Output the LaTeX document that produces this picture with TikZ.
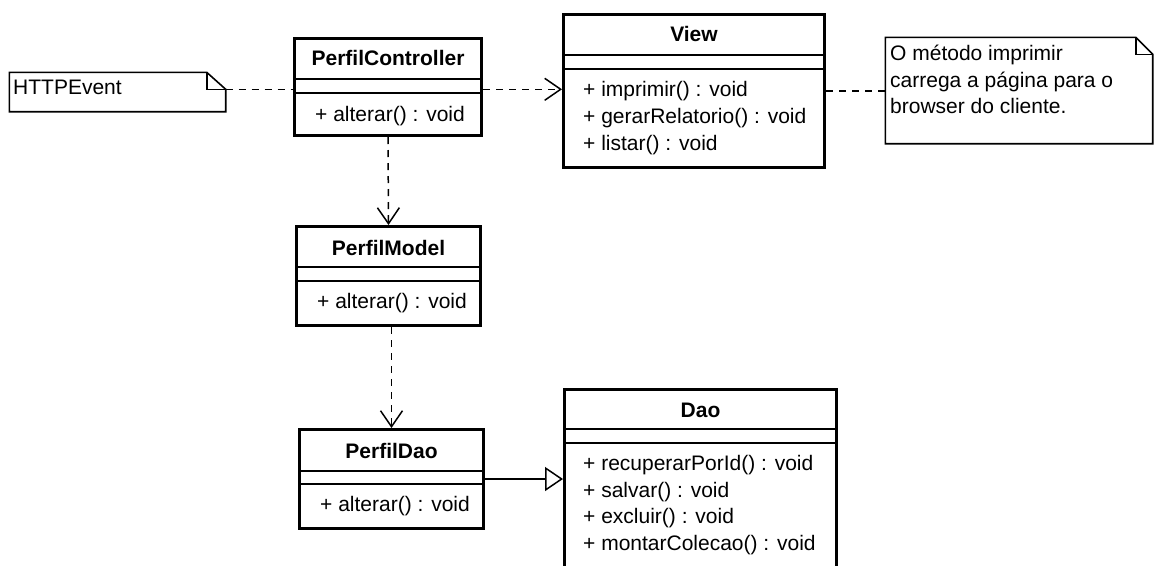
\documentclass[tikz,border=0pt]{standalone}
\usepackage{fontspec}
\setmainfont{Liberation Sans}
\usetikzlibrary{arrows.meta}

\begin{document}
\begin{tikzpicture}[x=1pt, y=-1pt,
    classbox/.style={draw, line width=3pt, inner sep=0pt},
    divider/.style={line width=1.6pt},
    classname/.style={font=\fontsize{21}{26}\selectfont\bfseries, inner sep=0pt, text height=15pt, text depth=0pt},
    member/.style={font=\fontsize{21}{26}\selectfont, anchor=west, inner sep=0pt, text height=15pt, text depth=4pt},
    notebox/.style={inner sep=0pt},
    noteline/.style={line width=1.6pt},
    dep/.style={line width=1.5pt, dash pattern=on 7pt off 6pt},
    uses/.style={dep, -{Straight Barb[length=16pt, width=22pt, line width=1.5pt]}},
    inherits/.style={line width=1.5pt, -{Triangle[open, length=18pt, width=24pt, line width=1.5pt, fill=white]}}
]
    % canvas
    \useasboundingbox[fill=white] (0,0) rectangle (1155,565);
    \clip (0,0) rectangle (1155,565);

    % HTTPEvent note
    \node[notebox, minimum width=216pt, minimum height=39pt] (evt) at (117.5,92) {};
    \coordinate (evt-fold) at ([yshift=-17pt]evt.north east);
    \draw[noteline] (evt.north west) -- ([xshift=-19pt]evt.north east) -- (evt-fold) -- (evt.south east) -- (evt.south west) -- cycle;
    \draw[noteline] ([xshift=-19pt]evt.north east) |- (evt-fold);
    \node[member] (evt-txt) at (13,89) {HTTPEvent};

    % PerfilController
    \node[classbox, minimum width=187pt, minimum height=97pt] (ctrl) at (388,87) {};
    \draw[divider] (ctrl.west |- 0,79) -- (ctrl.east |- 0,79);
    \draw[divider] (ctrl.west |- 0,93) -- (ctrl.east |- 0,93);
    \node[classname] (ctrl-name) at (388,58) {PerfilController};
    \node[member] (ctrl-m1) at (315,116) {+ alterar() : void};

    % View
    \node[classbox, minimum width=261pt, minimum height=153pt] (view) at (694,91) {};
    \draw[divider] (view.west |- 0,55) -- (view.east |- 0,55);
    \draw[divider] (view.west |- 0,69) -- (view.east |- 0,69);
    \node[classname] (view-name) at (694,34) {View};
    \node[member] (view-m1) at (583,91) {+ imprimir() : void};
    \node[member] (view-m2) at (583,118) {+ gerarRelatorio() : void};
    \node[member] (view-m3) at (583,145) {+ listar() : void};

    % note on View
    \node[notebox, minimum width=267pt, minimum height=106pt] (memo) at (1019,90.5) {};
    \coordinate (memo-fold) at ([yshift=-17pt]memo.north east);
    \draw[noteline] (memo.north west) -- ([xshift=-17pt]memo.north east) -- (memo-fold) -- (memo.south east) -- (memo.south west) -- cycle;
    \draw[noteline] ([xshift=-17pt]memo.north east) |- (memo-fold);
    \node[member] (memo-l1) at (890,55) {O método imprimir};
    \node[member] (memo-l2) at (890,82) {carrega a página para o};
    \node[member] (memo-l3) at (890,108) {browser do cliente.};

    % PerfilModel
    \node[classbox, minimum width=184pt, minimum height=99pt] (model) at (388.5,276) {};
    \draw[divider] (model.west |- 0,267) -- (model.east |- 0,267);
    \draw[divider] (model.west |- 0,281) -- (model.east |- 0,281);
    \node[classname] (model-name) at (388.5,248) {PerfilModel};
    \node[member] (model-m1) at (317,303) {+ alterar() : void};

    % PerfilDao
    \node[classbox, minimum width=184pt, minimum height=99pt] (pdao) at (391.5,479) {};
    \draw[divider] (pdao.west |- 0,471) -- (pdao.east |- 0,471);
    \draw[divider] (pdao.west |- 0,484) -- (pdao.east |- 0,484);
    \node[classname] (pdao-name) at (391.5,451) {PerfilDao};
    \node[member] (pdao-m1) at (320,506) {+ alterar() : void};

    % Dao (runs off the bottom)
    \node[classbox, minimum width=272pt, minimum height=231pt] (dao) at (700.5,505) {};
    \draw[divider] (dao.west |- 0,429) -- (dao.east |- 0,429);
    \draw[divider] (dao.west |- 0,443) -- (dao.east |- 0,443);
    \node[classname] (dao-name) at (700.5,410) {Dao};
    \node[member] (dao-m1) at (583,465) {+ recuperarPorId() : void};
    \node[member] (dao-m2) at (583,492) {+ salvar() : void};
    \node[member] (dao-m3) at (583,518) {+ excluir() : void};
    \node[member] (dao-m4) at (583,545) {+ montarColecao() : void};

    % Connections
    \draw[dep] (evt-fold) -- (evt-fold -| ctrl.west);
    \draw[uses] (ctrl.east |- evt-fold) -- (view.west |- evt-fold);
    \draw[dep] (view.east) -- (view.east -| memo.west);
    \draw[uses] (ctrl.south) -- (model.north);
    \draw[uses] (model.south -| pdao.north) -- (pdao.north);
    \draw[inherits] (pdao.east) -- (pdao.east -| dao.west);
\end{tikzpicture}
\end{document}
